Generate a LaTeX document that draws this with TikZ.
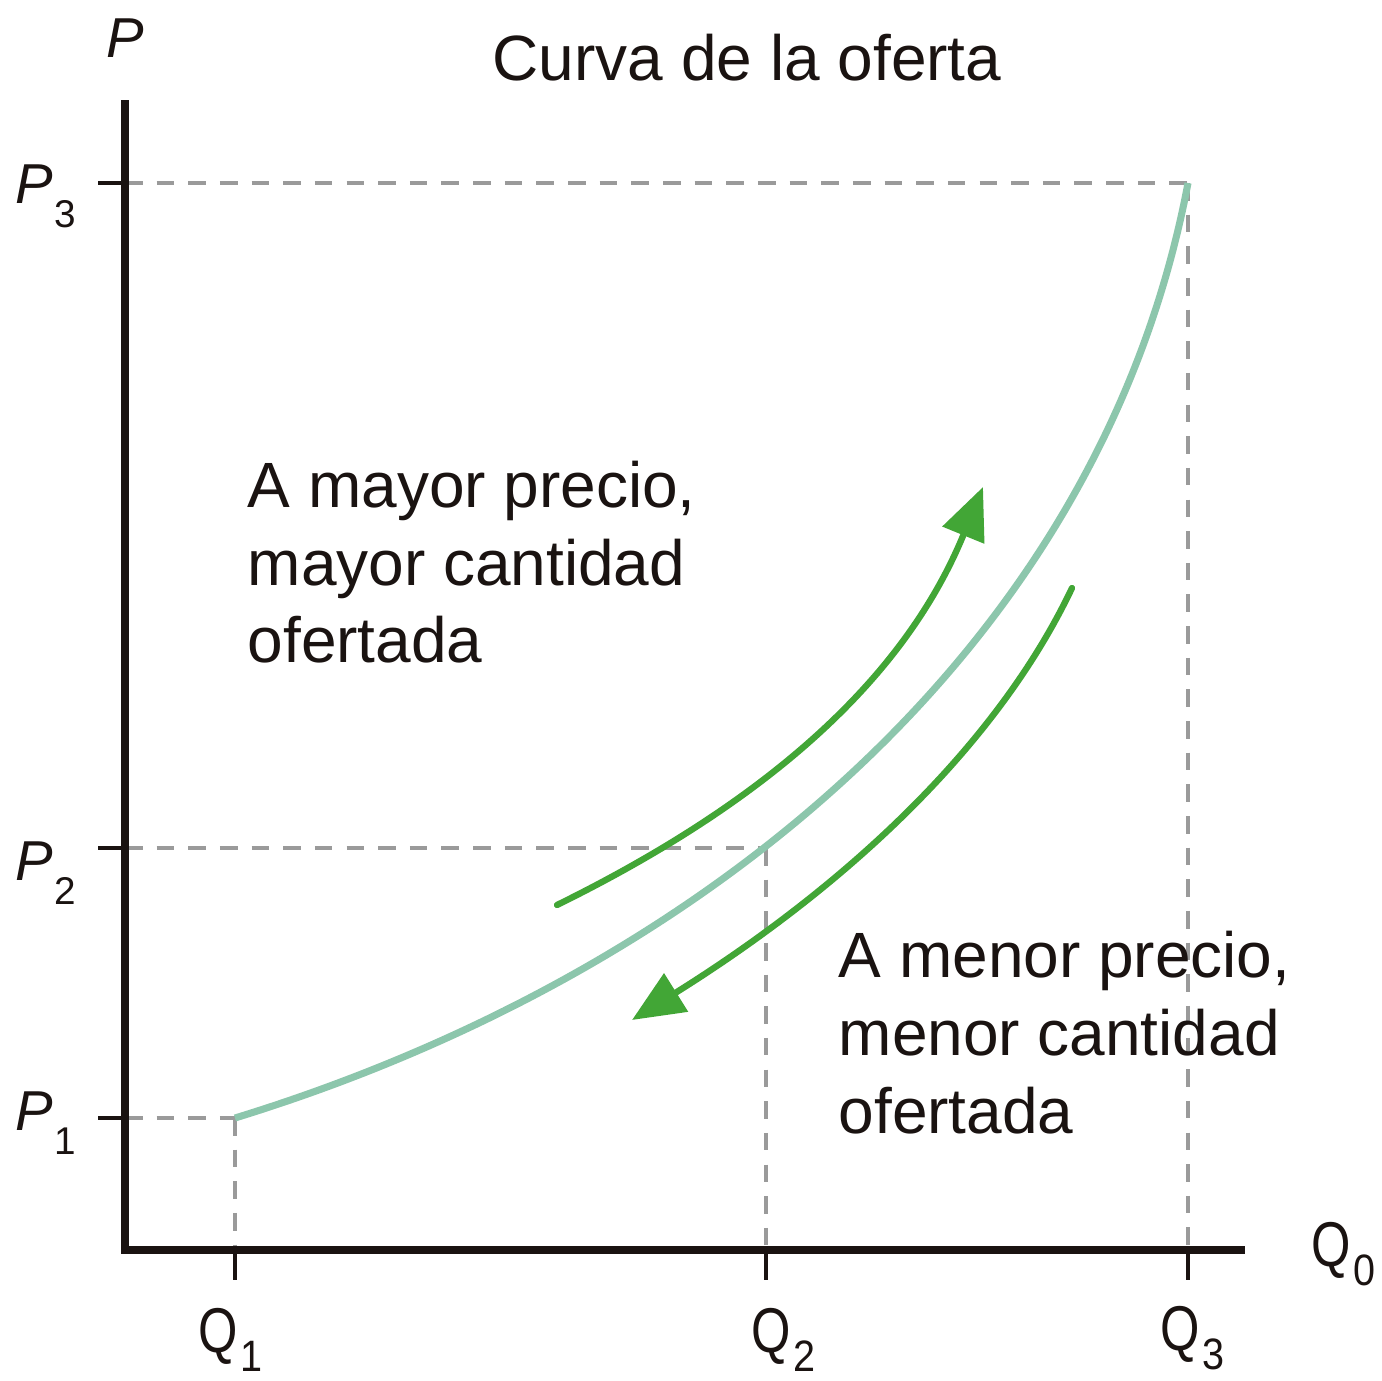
\documentclass[tikz,border=0pt]{standalone}
\usepackage{fontspec}
\setmainfont{Liberation Sans}
\usetikzlibrary{arrows.meta}
\definecolor{curvegreen}{HTML}{8CC6AC}
\definecolor{arrowgreen}{HTML}{42A636}
\definecolor{dashgray}{HTML}{9A9A9A}
\definecolor{axisblack}{HTML}{1A1311}
\newcommand{\plab}[2]{\textit{#1}\kern0.3pt\raisebox{-7pt}{\fontsize{11}{11}\selectfont #2}}
\newcommand{\qlab}[2]{\scalebox{0.8}[1]{#1}\kern0.6pt\raisebox{-5.5pt}{\fontsize{12.5}{12.5}\selectfont\scalebox{0.9}[1]{#2}}}
\begin{document}
\begin{tikzpicture}[x=0.01cm,y=-0.01cm,
  axisline/.style={draw=axisblack,line width=2.5pt},
  tickline/.style={draw=axisblack,line width=1.1pt},
  guide/.style={draw=dashgray,line width=1.1pt,dash pattern=on 5pt off 4pt},
  supply/.style={draw=curvegreen,line width=2pt},
  movearrow/.style={draw=arrowgreen,line width=1.8pt,line cap=round,-{Triangle[length=14.8pt,width=12.5pt]}},
  bodytext/.style={inner sep=0pt,anchor=base west,font=\fontsize{18.2}{21.9}\selectfont,text=axisblack},
  plabel/.style={inner sep=0pt,anchor=base west,font=\fontsize{16}{16}\selectfont,text=axisblack},
  qlabel/.style={inner sep=0pt,anchor=base west,font=\fontsize{18}{18}\selectfont,text=axisblack}]
\useasboundingbox (0,0) rectangle (1381,1381);
\fill[white] (0,0) rectangle (1381,1381);

% key coordinates
\coordinate (O) at (125,1250);
\coordinate (ytop) at (125,100);
\coordinate (xend) at (1245,1250);
\coordinate (p1) at (125,1118);
\coordinate (p2) at (125,848);
\coordinate (p3) at (125,183);
\coordinate (q1) at (235,1250);
\coordinate (q2) at (766,1250);
\coordinate (q3) at (1188,1250);
\coordinate (e1) at (235,1118);
\coordinate (e2) at (766,848);
\coordinate (e3) at (1188,183);

% guide lines
\draw[guide] (p1) -- (e1);
\draw[guide] (e1) -- (q1);
\draw[guide] (p2) -- (e2);
\draw[guide] (e2) -- (q2);
\draw[guide] (p3) -- (e3);
\draw[guide] (e3) -- (q3);

% supply curve
\draw[supply] (e1) .. controls (700,975) and (1100,650) .. (e3);

% movement arrows
\coordinate (a1s) at (557,905);
\coordinate (a1e) at (983,487);
\coordinate (a2s) at (1072,588);
\coordinate (a2e) at (632,1020);
\draw[movearrow] (a1s) .. controls (750,810) and (900,690) .. (a1e);
\draw[movearrow] (a2s) .. controls (995,750) and (840,890) .. (a2e);

% axes
\draw[axisline] (ytop) -- (O) -- (xend);
\draw[tickline] (98,1118) -- (p1);
\draw[tickline] (98,848) -- (p2);
\draw[tickline] (98,183) -- (p3);
\draw[tickline] (q1) -- (235,1280);
\draw[tickline] (q2) -- (766,1280);
\draw[tickline] (q3) -- (1188,1280);

% axis labels
\node[plabel] (lP) at (106,57) {\textit{P}};
\node[plabel] (lP3) at (15,203) {\plab{P}{3}};
\node[plabel] (lP2) at (15,880) {\plab{P}{2}};
\node[plabel] (lP1) at (15,1130) {\plab{P}{1}};
\node[qlabel] (lQ0) at (1311,1266) {\qlab{Q}{0}};
\node[qlabel] (lQ1) at (198,1352) {\qlab{Q}{1}};
\node[qlabel] (lQ2) at (751,1352) {\qlab{Q}{2}};
\node[qlabel] (lQ3) at (1160,1350) {\qlab{Q}{3}};

% texts
\node[bodytext] (title) at (492,80) {Curva de la oferta};
\node[bodytext] (m1) at (247,507) {A mayor precio,};
\node[bodytext] (m2) at (247,585) {mayor cantidad};
\node[bodytext] (m3) at (247,662) {ofertada};
\node[bodytext] (n1) at (838,977) {A menor precio,};
\node[bodytext] (n2) at (838,1055) {menor cantidad};
\node[bodytext] (n3) at (838,1133) {ofertada};
\end{tikzpicture}
\end{document}
